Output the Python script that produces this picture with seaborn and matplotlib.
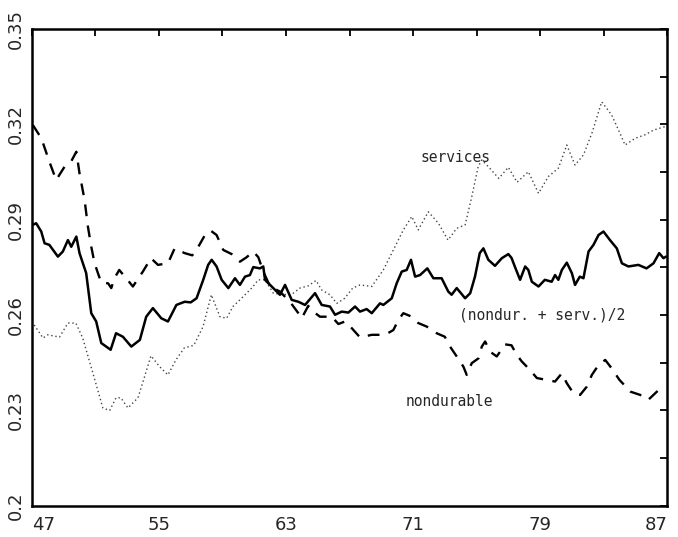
import numpy as np
import pandas as pd
import matplotlib
matplotlib.use("Agg")
import matplotlib.pyplot as plt
import seaborn as sns
from matplotlib.ticker import FixedLocator, FixedFormatter

# values (year, share)
serv_year = [47.0, 47.7, 48.0, 48.74, 49.27, 49.77, 50.2, 50.84, 51.47, 51.9, 52.3, 52.6,
             53.05, 53.68, 54.1, 54.5, 55.04, 55.57, 56.07, 56.6, 57.2, 57.78, 58.3, 58.84,
             59.26, 59.66, 60.2, 60.84, 61.26, 61.68, 62.2, 62.83, 63.46, 63.88, 64.4, 64.89,
             65.25, 65.77, 66.2, 66.7, 67.2, 67.66, 68.4, 69.13, 69.76, 70.39, 70.92, 71.33,
             71.96, 72.6, 73.2, 73.75, 74.28, 74.7, 75.1, 75.33, 75.74, 76.4, 77.0, 77.55,
             78.26, 78.9, 79.52, 80.15, 80.68, 81.2, 81.73, 82.26, 82.88, 83.5, 83.94, 84.35,
             84.98, 85.6, 86.14, 86.87]
serv_val = [0.258, 0.2528, 0.2538, 0.2531, 0.2575, 0.2575, 0.2528, 0.2418, 0.2308, 0.2300,
            0.2340, 0.2340, 0.2308, 0.2340, 0.2407, 0.2472, 0.2438, 0.2412, 0.2459, 0.2497,
            0.2505, 0.2564, 0.2664, 0.2595, 0.2590, 0.2627, 0.2653, 0.2685, 0.2711, 0.2711,
            0.2669, 0.2664, 0.2669, 0.2685, 0.2692, 0.2709, 0.2679, 0.2664, 0.2637, 0.2653,
            0.2685, 0.2695, 0.2690, 0.2742, 0.2805, 0.2868, 0.2910, 0.2868, 0.2925, 0.2889,
            0.2836, 0.2873, 0.2884, 0.2973, 0.3067, 0.3088, 0.3067, 0.3030, 0.3065, 0.3018,
            0.3051, 0.2983, 0.3036, 0.3062, 0.3135, 0.3072, 0.3104, 0.3172, 0.3271, 0.3230,
            0.3182, 0.3135, 0.3156, 0.3167, 0.3182, 0.3193]

nond_year = [47.06, 47.6, 48.1, 48.53, 49.06, 49.47, 49.8, 50.0, 50.32, 50.53, 50.74, 50.95,
             51.16, 51.37, 51.8, 52.0, 52.2, 52.5, 52.94, 53.36, 53.99, 54.5, 54.94, 55.57,
             55.99, 56.62, 57.1, 57.48, 57.9, 58.25, 58.63, 59.05, 59.58, 60.1, 60.52, 60.94,
             61.26, 61.57, 62.0, 62.62, 63.25, 63.78, 63.99, 64.4, 64.72, 65.14, 65.88, 66.3,
             66.72, 67.14, 67.66, 68.4, 69.24, 69.76, 70.08, 70.39, 70.92, 71.33, 71.86, 72.49,
             73.0, 73.33, 73.75, 74.17, 74.38, 74.7, 75.12, 75.33, 75.54, 75.85, 76.27, 76.8,
             77.2, 77.53, 77.85, 78.26, 78.8, 79.42, 79.94, 80.37, 80.68, 81.1, 81.52, 81.94,
             82.26, 82.68, 83.1, 83.5, 84.0, 84.7, 85.3, 85.8, 86.35, 86.67]
nond_val = [0.3198, 0.3156, 0.3083, 0.3025, 0.3067, 0.3083, 0.3114, 0.3046, 0.2962, 0.2878,
            0.2815, 0.2763, 0.2732, 0.2702, 0.2700, 0.2685, 0.2716, 0.2742, 0.2716, 0.2690,
            0.2737, 0.2779, 0.2758, 0.2763, 0.2810, 0.2795, 0.2788, 0.2815, 0.2852, 0.2866,
            0.2852, 0.2805, 0.2792, 0.2768, 0.2782, 0.2800, 0.2782, 0.2737, 0.2690, 0.2674,
            0.2642, 0.2606, 0.2590, 0.2629, 0.2611, 0.2595, 0.2595, 0.2572, 0.2580, 0.2559,
            0.2530, 0.2538, 0.2538, 0.2553, 0.2585, 0.2606, 0.2595, 0.2575, 0.2564, 0.2543,
            0.2532, 0.2501, 0.2470, 0.2438, 0.2412, 0.2449, 0.2464, 0.2501, 0.2517, 0.2485,
            0.2470, 0.2508, 0.2505, 0.2475, 0.2454, 0.2433, 0.2402, 0.2396, 0.2391, 0.2417,
            0.2386, 0.2354, 0.2349, 0.2375, 0.2412, 0.2443, 0.2459, 0.2433, 0.2396, 0.2359,
            0.2349, 0.2333, 0.2359, 0.2375]

avg_year = [47.06, 47.27, 47.59, 47.8, 48.1, 48.64, 48.95, 49.27, 49.48, 49.8, 50.0, 50.42,
            50.74, 51.05, 51.37, 51.68, 51.96, 52.3, 52.73, 53.26, 53.8, 54.2, 54.62, 55.15,
            55.57, 56.1, 56.62, 57.0, 57.37, 57.79, 58.1, 58.32, 58.63, 58.95, 59.37, 59.79,
            60.1, 60.42, 60.73, 60.94, 61.36, 61.57, 61.68, 62.1, 62.62, 62.94, 63.36, 63.78,
            64.2, 64.83, 65.25, 65.77, 66.09, 66.51, 66.93, 67.35, 67.66, 68.08, 68.4, 68.92,
            69.13, 69.66, 69.97, 70.29, 70.6, 70.87, 71.13, 71.44, 71.9, 72.28, 72.8, 73.22,
            73.43, 73.75, 74.28, 74.6, 74.9, 75.2, 75.43, 75.74, 76.16, 76.59, 77.0, 77.2,
            77.43, 77.74, 78.06, 78.26, 78.48, 78.9, 79.3, 79.73, 79.94, 80.15, 80.37, 80.68,
            81.0, 81.2, 81.5, 81.73, 82.05, 82.36, 82.68, 82.99, 83.4, 83.83, 84.15, 84.56,
            85.19, 85.7, 86.14, 86.5, 86.77, 86.92]
avg_val = [0.2884, 0.2889, 0.2863, 0.2826, 0.2821, 0.2784, 0.2800, 0.2836, 0.2815, 0.2847,
           0.2795, 0.2732, 0.2606, 0.2580, 0.2512, 0.2501, 0.2491, 0.2543, 0.2532, 0.2501,
           0.2522, 0.2595, 0.2622, 0.2590, 0.2580, 0.2632, 0.2642, 0.2640, 0.2653, 0.2711,
           0.2758, 0.2774, 0.2753, 0.2711, 0.2685, 0.2716, 0.2695, 0.2721, 0.2726, 0.2751,
           0.2747, 0.2753, 0.2711, 0.2690, 0.2664, 0.2695, 0.2648, 0.2642, 0.2632, 0.2669,
           0.2632, 0.2627, 0.2601, 0.2611, 0.2608, 0.2627, 0.2611, 0.2619, 0.2606, 0.2637,
           0.2632, 0.2653, 0.2700, 0.2737, 0.2742, 0.2774, 0.2721, 0.2726, 0.2747, 0.2716,
           0.2716, 0.2674, 0.2664, 0.2685, 0.2653, 0.2669, 0.2721, 0.2795, 0.2810, 0.2774,
           0.2755, 0.2779, 0.2792, 0.2780, 0.2750, 0.2711, 0.2753, 0.2742, 0.2705, 0.2690,
           0.2711, 0.2705, 0.2726, 0.2711, 0.2742, 0.2765, 0.2732, 0.2695, 0.2721, 0.2716,
           0.2800, 0.2821, 0.2852, 0.2863, 0.2836, 0.2810, 0.2763, 0.2753, 0.2758, 0.2747,
           0.2763, 0.2795, 0.2779, 0.2784]

x_ticks = [47, 55, 63, 71, 79, 87]
x_labels = ["47", "55", "63", "71", "79", "87"]
x_minor = [51, 59, 67, 75, 83]
y_ticks = [0.2, 0.23, 0.26, 0.29, 0.32, 0.35]
y_labels = ["0.2", "0.23", "0.26", "0.29", "0.32", "0.35"]
y_minor = [0.215, 0.245, 0.275, 0.305, 0.335]

sns.set_style("white")
plt.rcParams['font.family'] = ['DejaVu Sans']

fig = plt.figure(figsize=(6.78, 5.37), dpi=100)
ax = fig.add_axes([0.047, 0.058, 0.937, 0.888])

serv = pd.DataFrame({'year': serv_year, 'share': serv_val})
nond = pd.DataFrame({'year': nond_year, 'share': nond_val})
avg = pd.DataFrame({'year': avg_year, 'share': avg_val})

sns.lineplot(data=serv, x='year', y='share', ax=ax, color='#444444', linewidth=1.0,
             linestyle=(0, (1, 2)))
sns.lineplot(data=nond, x='year', y='share', ax=ax, color='black', linewidth=1.7,
             linestyle=(0, (5, 4)))
sns.lineplot(data=avg, x='year', y='share', ax=ax, color='black', linewidth=1.8)

ax.set_xlim(47, 87)
ax.set_ylim(0.2, 0.35)
ax.xaxis.set_major_locator(FixedLocator(x_ticks))
ax.xaxis.set_major_formatter(FixedFormatter(x_labels))
ax.xaxis.set_minor_locator(FixedLocator(x_minor))
ax.yaxis.set_major_locator(FixedLocator(y_ticks))
ax.yaxis.set_major_formatter(FixedFormatter(y_labels))
ax.yaxis.set_minor_locator(FixedLocator(y_minor))
ax.set_xlabel('')
ax.set_ylabel('')

ax.tick_params(which='both', direction='in', length=5, width=1.3, top=True, right=True,
               color='black')
ax.tick_params(axis='x', which='major', pad=7, labelsize=13)
ax.tick_params(axis='y', which='major', pad=5, labelsize=13)
for lab in ax.get_yticklabels():
    lab.set_rotation(90)
    lab.set_va('center')
xl = ax.get_xticklabels()
xl[0].set_ha('left')
xl[-1].set_ha('right')

for s in ax.spines.values():
    s.set_linewidth(1.8)
    s.set_color('black')

mono = ['DejaVu Sans Mono']
ax.text(73.65, 0.3097, 'services', family=mono, fontsize=10.5, ha='center', va='center')
ax.text(73.9, 0.2600, '(nondur. + serv.)/2', family=mono, fontsize=10.5, ha='left', va='center')
ax.text(70.56, 0.2327, 'nondurable', family=mono, fontsize=10.5, ha='left', va='center')

fig.savefig('out.png', dpi=100)
